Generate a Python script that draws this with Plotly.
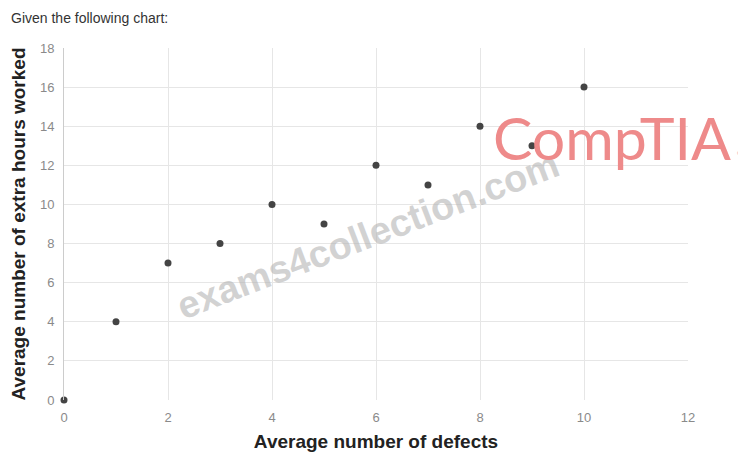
import plotly.graph_objects as go

defects = [0, 1, 2, 3, 4, 5, 6, 7, 8, 9, 10]
extra_hours = [0, 4, 7, 8, 10, 9, 12, 11, 14, 13, 16]
x_ticks = [0, 2, 4, 6, 8, 10, 12]
y_ticks = [0, 2, 4, 6, 8, 10, 12, 14, 16, 18]

OFF = 8  # page body margin
W, H = 746 - OFF, 452 - OFF
L, T = 64 - OFF, 48 - OFF
PW, PH = 624, 352
R, B = W - L - PW, H - T - PH


def px(x):
    return (x - OFF - L) / PW


def py(y):
    return (T + PH - (y - OFF)) / PH


fig = go.Figure()
fig.add_trace(go.Scatter(
    x=defects, y=extra_hours, mode="markers",
    marker=dict(color="#444444", size=7),
    cliponaxis=False, showlegend=False,
))

tickfont = dict(size=13, color="#8a8a8a", family="Liberation Sans Narrow, Arial Narrow, Liberation Sans, sans-serif")

fig.update_layout(
    width=W, height=H,
    margin=dict(l=L, r=R, t=T, b=B, autoexpand=False),
    plot_bgcolor="white", paper_bgcolor="white",
    font=dict(family="Liberation Sans, Arial, sans-serif"),
    xaxis=dict(
        range=[0, 12], tickvals=x_ticks, showgrid=True, gridcolor="#e6e6e6",
        zeroline=False, showline=False, automargin=False, ticklabelstandoff=8,
        tickfont=tickfont,
        title=dict(text="<b>Average number of defects</b>", font=dict(size=19, color="#222222"), standoff=14),
    ),
    yaxis=dict(
        range=[0, 18], tickvals=y_ticks, showgrid=True, gridcolor="#e6e6e6",
        zeroline=False, showline=True, linecolor="#cccccc", automargin=False, ticklabelstandoff=6,
        tickfont=tickfont,
        title=dict(text="<b>Average number of extra hours worked</b>", font=dict(size=19, color="#222222"), standoff=10),
    ),
)

fig.add_annotation(
    xref="paper", yref="paper", x=px(OFF + 1), y=py(OFF), xanchor="left", yanchor="top",
    text="Given the following chart:", showarrow=False,
    font=dict(size=14, color="#333333"),
)
fig.add_annotation(
    xref="paper", yref="paper", x=px(368), y=py(235), xanchor="center", yanchor="middle",
    text="<b>exams4collection.com</b>", showarrow=False, textangle=-21,
    font=dict(size=38, color="rgba(180,180,180,0.6)"),
)
fig.add_annotation(
    xref="paper", yref="paper", x=px(612), y=py(137), xanchor="center", yanchor="middle",
    text="CompTIA", showarrow=False,
    font=dict(size=59, color="#ee8a8a", family="Lato, sans-serif"),
)
fig.add_annotation(
    xref="paper", yref="paper", x=px(740), y=py(153), xanchor="center", yanchor="middle",
    text="®", showarrow=False,
    font=dict(size=8, color="#ee8a8a", family="Lato, sans-serif"),
)

fig.write_html("out.html")
